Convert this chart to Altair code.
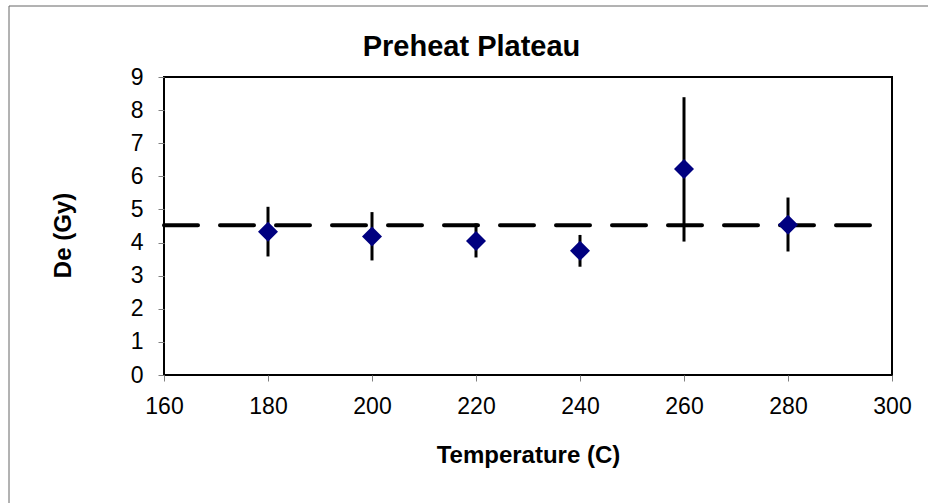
import altair as alt
import pandas as pd

# Data
temps = [180, 200, 220, 240, 260, 280]
de = [4.33, 4.18, 4.05, 3.75, 6.22, 4.54]
de_hi = [5.08, 4.92, 4.58, 4.23, 8.39, 5.36]
de_lo = [3.58, 3.46, 3.55, 3.27, 4.03, 3.73]
mean_de = 4.52
x_range = [160, 300]
y_range = [0, 9]
x_ticks = [160, 180, 200, 220, 240, 260, 280, 300]
y_ticks = [0, 1, 2, 3, 4, 5, 6, 7, 8, 9]

FONT = "Liberation Sans"

df = pd.DataFrame({"temp": temps, "de": de, "hi": de_hi, "lo": de_lo})
df_mean = pd.DataFrame({"x0": [x_range[0]], "x1": [x_range[1]], "m": [mean_de]})

xscale = alt.Scale(domain=x_range, nice=False, zero=False)
yscale = alt.Scale(domain=y_range, nice=False, zero=True)

xaxis = alt.Axis(
    title="Temperature (C)", values=x_ticks, grid=False, domain=False,
    tickColor="#808080", tickSize=6, tickWidth=1,
    labelFont=FONT, labelFontSize=23, labelColor="black",
    labelBaseline="alphabetic", labelPadding=32, labelFlush=False, labelOverlap=False,
    titleFont=FONT, titleFontSize=24, titleFontWeight="bold", titleColor="black",
    titleBaseline="alphabetic", titleY=87,
)
yaxis = alt.Axis(
    title="De (Gy)", values=y_ticks, tickCount=10, grid=False, domain=False,
    tickColor="#808080", tickSize=6, tickWidth=1,
    labelFont=FONT, labelFontSize=23, labelColor="black",
    labelPadding=15, labelFlush=False, labelOverlap=False, labelBound=False,
    titleFont=FONT, titleFontSize=24, titleFontWeight="bold", titleColor="black",
    titleBaseline="alphabetic", titleX=-94, titleY=158, titleAlign="center", titleAngle=270,
)

mean_line = alt.Chart(df_mean).mark_rule(
    color="black", strokeWidth=4, strokeDash=[34, 22], strokeCap="round"
).encode(
    x=alt.X("x0:Q", scale=xscale, axis=xaxis),
    x2="x1:Q",
    y=alt.Y("m:Q", scale=yscale, axis=yaxis),
)

err = alt.Chart(df).mark_rule(color="black", strokeWidth=3).encode(
    x=alt.X("temp:Q", scale=xscale, axis=xaxis),
    y=alt.Y("lo:Q", scale=yscale, axis=yaxis),
    y2="hi:Q",
)

pts = alt.Chart(df).mark_point(
    shape="diamond", filled=True, size=400, color="#000080", opacity=1
).encode(
    x=alt.X("temp:Q", scale=xscale, axis=xaxis),
    y=alt.Y("de:Q", scale=yscale, axis=yaxis),
)

frame_data = alt.Data(values=[{}])
frame_top = alt.Chart(frame_data).mark_rule(color="#666666", strokeWidth=1).encode(
    x=alt.value(-155), x2=alt.value(764), y=alt.value(-71)
)
frame_left = alt.Chart(frame_data).mark_rule(color="#666666", strokeWidth=1).encode(
    x=alt.value(-155), y=alt.value(-71), y2=alt.value(426)
)

chart = alt.layer(frame_top, frame_left, mean_line, err, pts).properties(
    width=728,
    height=298,
    title=alt.Title(
        "Preheat Plateau", font=FONT, fontSize=29, fontWeight="bold", color="black",
        anchor="middle", frame="bounds", offset=0, baseline="alphabetic", dy=79, dx=3,
    ),
    autosize=alt.AutoSizeParams(type="none"),
    padding={"left": 164, "top": 77, "right": 36, "bottom": 128},
    background="white",
).configure_view(stroke="black", strokeWidth=2).configure_axis(labelOverlap=False)

chart.save("out.html", embed_options={"renderer": "svg", "actions": False})
